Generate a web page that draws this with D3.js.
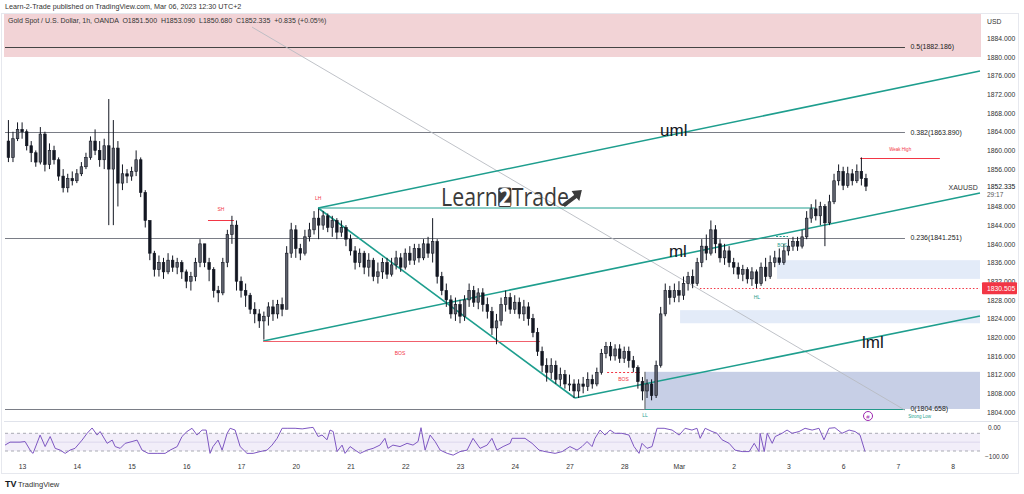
<!DOCTYPE html>
<html><head><meta charset="utf-8">
<script src="https://cdn.jsdelivr.net/npm/d3@7"></script>
<style>
body{margin:0;background:#fff;overflow:hidden}
svg{display:block;font-family:"Liberation Sans",Arial,sans-serif}
</style></head>
<body><svg id="c" width="1024" height="494"></svg>
<script>
// ---------- DATA (2-hour bars, hours in trading time from Feb 13 00:00) ----------
const firstOpen = 1862;
const closes = [1858.5,1862.5,1864.5,
1864,1861,1859.5,1857.5,1863.5,1857,1860,1858,1854.5,1852,1854,1853.5,
1855,1856.5,1858.5,1862,1860,1858,1861,1856,1860.5,1853,1855,1854.5,
1855.5,1858,1851,1845,1838,1834.5,1836,1834,1836.5,1835,1836,1834,
1832,1833,1836,1840,1836,1834.5,1830,1829.5,1836,1842,1844,1832,
1830,1829,1826,1825,1823.5,1824.5,1826.5,1825,1827,1826,1838,1843,
1839,1838,1841.5,1843,1845.5,1844,1846,1843.5,1845,1842.5,1843.5,1841,
1838.5,1836,1838,1835,1836.5,1833,1834,1836,1833.5,1835.5,1837,1835,
1838,1836.5,1839,1837,1840,1838,1840.5,1833,1830,1828,1825,1827,
1824.5,1828,1830,1827.5,1829.5,1827,1825.5,1822,1823.5,1827,1828.5,1826,
1827.5,1825,1826.5,1824,1821,1817,1814,1812.5,1814,1811,1812,1810,
1810,1808.5,1810,1809.5,1811,1810,1812.5,1816.5,1818,1816,1817.5,1815.5,
1817,1815,1813.5,1810.5,1808.5,1810,1807.5,1814,1825,1830,1828.5,1830,
1829,1831.5,1833,1831.5,1836,1839.5,1838,1843,1840,1837,1838.5,1836,
1835,1833.5,1834.5,1832.5,1834,1831.5,1835,1833,1836,1837,1836,1838.5,
1839.5,1840.5,1839.5,1841.5,1845.5,1847.5,1846,1848,1844.5,1849,1853.5,1855.5,
1852.5,1855,1853.5,1855.5,1854,1852.335];
const highs = [1866.5,1864,1866,
1866,1864.5,1862,1860,1865,1864,1861.5,1861,1858.5,1856,1855,1855.5,
1856,1857.5,1859.5,1863,1864.5,1862,1862.5,1871,1866.5,1862,1857,1856,
1856.5,1860,1858.5,1851.5,1845,1838.5,1837.5,1837,1838,1837.5,1837,1836.5,
1834.5,1834,1837,1841,1840,1837,1835,1831,1837,1843,1846,1845,
1833,1831.5,1829.5,1827.5,1826,1825.5,1827.5,1828,1828,1828.5,1839.5,1844.5,
1844,1840,1843,1844.5,1847,1847.5,1847,1846.5,1846,1845.5,1845,1844,
1842,1839.5,1839,1838.5,1838,1837,1836,1837,1837,1837,1838.5,1838,
1839,1839.5,1840,1840,1841,1841.5,1845.5,1841,1834,1831.5,1829,1828.5,
1828,1829,1831.5,1831,1830.5,1830.5,1828.5,1826.5,1825,1828.5,1830,1829.5,
1829,1828.5,1828,1827.5,1825,1822,1818,1815.5,1815.5,1815,1813.5,1813,
1812,1811,1811,1811.5,1812.5,1812,1813.5,1817.5,1819,1819,1818.5,1818.5,
1818,1818,1816,1814,1811.5,1811,1811,1815,1826.5,1831.5,1831,1831.5,
1832,1833,1834,1834.5,1837,1841,1842,1845,1844,1841,1840,1839.5,
1837,1836,1835.5,1835,1835,1834.5,1836,1837,1837.5,1838.5,1839,1840,
1841,1841.5,1841.5,1843,1847,1848.5,1849.5,1849,1848.5,1850.5,1855,1857,
1856.5,1856.5,1856,1857,1858.5,1855];
const lows = [1857.5,1857.5,1862,
1862.5,1860,1857.5,1856.5,1857,1855.5,1856,1857,1853.5,1851,1851,1852.5,
1853,1854.5,1856,1858,1859,1856.5,1856,1844,1844,1848,1851.5,1853,
1853.5,1854.5,1850,1843.5,1836.5,1833,1833,1832.5,1833.5,1834,1833.5,1832.5,
1830.5,1830,1832,1835,1835,1832,1828.5,1827.5,1829,1835,1840,1830,
1828.5,1826.5,1825,1823,1822,1819.5,1822.5,1823.5,1824,1824.5,1826,1837,
1837,1836.5,1837.5,1840.5,1842,1841,1843,1842.5,1841.5,1841,1841.5,1839.5,
1837.5,1834.5,1835,1833.5,1833,1832,1831.5,1832.5,1832.5,1833,1834.5,1834,
1834.5,1835.5,1835.5,1836,1836.5,1837,1836,1831.5,1829,1826.5,1824,1823.5,
1823,1823.5,1826.5,1826.5,1826,1825.5,1824,1820.5,1818.5,1822.5,1825.5,1825,
1825,1824,1823.5,1822.5,1820,1816,1812.5,1810.5,1811,1810,1809.5,1809,
1808.5,1807,1807,1808,1808.5,1809,1809.5,1812,1815.5,1815,1815,1814.5,
1814.5,1813.5,1812.5,1809,1806.5,1807,1806.5,1807,1813.5,1824.5,1827,1827.5,
1827.5,1828,1830,1830.5,1831,1835,1836.5,1837.5,1838,1836,1835.5,1835,
1833.5,1832.5,1832,1831.5,1831,1830.5,1831,1832,1832.5,1835,1835.5,1835.5,
1837.5,1838.5,1838.5,1839,1841,1844.5,1845,1844,1839.5,1844,1848.5,1852.5,
1851.5,1852,1852.5,1853,1852.5,1851.3];

// Williams %R panel: [hour, value]
const wrPoints = [[-7.5,-60],[-5.3,-50],[-0.9,-50],[1.3,-48],[3.9,-82],[4.8,-88],[7.9,-26],[10.1,-65],[12.3,-31],[14.5,-71],[16.7,-77],[18.9,-88],[21,-77],[23.2,-71],[26.3,-43],[28.5,-20],[30.7,-2],[32.9,-26],[34.2,-14],[37.3,-54],[39.5,-43],[40.8,-65],[43,-71],[45.2,-54],[48.2,-48],[50.4,-43],[52.6,-77],[55.3,-88],[59.2,-88],[62.7,-88],[64.9,-77],[68,-65],[70.1,-31],[72.3,-14],[74.5,-3],[76.7,-26],[78.9,-9],[80.7,-9],[82.4,-88],[83.7,-65],[85.9,-43],[87.7,-77],[89.9,-20],[91.2,-3],[93.4,-9],[95.6,-65],[98.6,-88],[101.3,-88],[104.3,-82],[107.4,-77],[109.6,-60],[111.8,-37],[114,-3],[116.2,-3],[119.7,-3],[122.8,-5],[126.3,-1],[127.6,0],[129.8,-31],[131.5,-26],[133.7,-42],[135,-9],[136.4,-14],[138.1,-82],[140.3,-60],[141.6,-88],[143.8,-65],[146,-77],[148.2,-88],[151.2,-77],[153.9,-71],[156.9,-60],[159.1,-37],[160.4,-71],[162.6,-60],[165.7,-65],[168.8,-54],[171.4,-60],[173.6,-48],[174.9,-1],[176.7,-77],[178.9,-26],[181.1,-48],[183.3,-77],[186.4,-88],[189,-94],[192,-82],[195.1,-77],[197.7,-37],[200.8,-71],[203.9,-60],[206,-37],[208.2,-77],[210.9,-65],[214,-54],[214.8,-37],[220.5,-37],[223.6,-54],[226.7,-77],[229.3,-82],[233.7,-88],[236.8,-82],[240.2,-65],[243.3,-77],[245.5,-65],[247.7,-48],[249.9,-65],[251.2,-37],[253.4,-9],[255.6,-26],[257.8,-9],[259.9,-20],[263,-20],[266.1,-26],[268.3,-65],[270.5,-88],[271.8,-54],[274,-71],[276.2,-65],[278.4,-3],[281.5,-3],[285,-9],[288.1,-26],[290.7,-3],[293.7,-9],[295.9,-3],[297.3,-37],[299.5,-3],[302.5,-14],[304.7,-20],[306.9,-42],[310,-54],[312.6,-77],[315.7,-82],[318.8,-82],[321,-54],[323.1,-82],[323.6,-20],[325.4,-82],[326.7,-20],[328.9,-54],[330.2,-31],[333.2,-20],[335.4,-9],[337.6,-20],[340.7,-14],[343.3,-3],[346.4,-9],[349.4,-3],[351.6,-42],[353.8,-3],[356.4,-1],[359.5,-20],[362.6,-9],[365.2,-14],[367.4,-26],[369.6,-82]];

const dayLabels = ["13","14","15","16","17","20","21","22","23","24","27","28","Mar","2","3","6","7","8"];
const priceTicks = [1804,1808,1812,1816,1820,1824,1828,1832,1836,1840,1844,1848,1856,1860,1864,1868,1872,1876,1880,1884];
const fibLevels = [["0.5",1882.186],["0.382",1863.890],["0.236",1841.251],["0",1804.658]];
const lhPoint = [129.8,1847.67];
const mlStart = [105.7,1819.2];
const lmlStart = [242.4,1807.0];
const umlEnd = [420,1877.0], mlEnd = [420,1850.9], lmlEnd = [420,1824.55];
const greyDiag = [[100.8,1886.4],[387.1,1804.4]];
const lastPrice = 1852.335, markPrice = 1830.505;

// ---------- SCALES ----------
const X = d3.scaleLinear().domain([-7.5,420]).range([5,980]);
const Y = d3.scaleLinear().domain([1804,1884]).range([412,38.3]);
const W = d3.scaleLinear().domain([0,-100]).range([427.4,456.9]);
const Yc = v => Math.round(Y(v))+0.5;
const paneL=4, paneR=981, paneT=14, paneB=421;

const svg = d3.select("#c");
svg.append("defs").append("clipPath").attr("id","cp").append("rect")
  .attr("x",paneL).attr("y",paneT).attr("width",paneR-paneL).attr("height",paneB-paneT);
svg.select("defs").append("clipPath").attr("id","cp2").append("rect")
  .attr("x",paneL).attr("y",paneB).attr("width",paneR-paneL).attr("height",38);

// header
svg.append("text").attr("x",5).attr("y",9).attr("font-size",7.2).attr("fill","#333")
  .text("Learn-2-Trade published on TradingView.com, Mar 06, 2023 12:30 UTC+2");
// frame
svg.append("rect").attr("x",1.5).attr("y",13.5).attr("width",1017).attr("height",460)
  .attr("fill","none").attr("stroke","#e6e8ee");

const g = svg.append("g").attr("clip-path","url(#cp)");

// zones
g.append("rect").attr("x",X(-7.5)-2).attr("width",X(420)-X(-7.5)+4)
  .attr("y",paneT).attr("height",Y(1880)-paneT).attr("fill","#f2d3d6");
g.append("rect").attr("x",X(273.1)).attr("width",X(420)-X(273.1))
  .attr("y",Y(1812.6)).attr("height",Y(1804.65)-Y(1812.6)).attr("fill","#c7cfe6");
g.append("line").attr("x1",X(273.1)).attr("x2",X(273.1)).attr("y1",Y(1812.6)).attr("y2",Y(1804.65))
  .attr("stroke","#555").attr("stroke-width",1);
g.append("rect").attr("x",X(288.5)).attr("width",X(420)-X(288.5))
  .attr("y",Y(1825.8)).attr("height",Y(1823.0)-Y(1825.8)).attr("fill","#e3ebf8");
g.append("rect").attr("x",X(331)).attr("width",X(420)-X(331))
  .attr("y",Y(1836.5)).attr("height",Y(1832.5)-Y(1836.5)).attr("fill","#e3ebf8");

// fib lines
fibLevels.forEach(([k,v])=>{
  g.append("line").attr("x1",X(-7.5)).attr("x2",X(387.1)).attr("y1",Yc(v)).attr("y2",Yc(v))
    .attr("stroke", k==="0.5"?"#444":"#7a7d86").attr("stroke-width",1);
  g.append("text").attr("x",X(389.5)).attr("y",Y(v)+2.5).attr("font-size",7).attr("fill","#222")
    .text(`${k}(${v.toFixed(3)})`);
});
// strong low teal
g.append("line").attr("x1",X(273.1)).attr("x2",X(387.1)).attr("y1",Yc(1804.658)).attr("y2",Yc(1804.658))
  .attr("stroke","#22998a").attr("stroke-width",1.2);

// grey diagonal
g.append("line").attr("x1",X(greyDiag[0][0])).attr("y1",Y(greyDiag[0][1]))
  .attr("x2",X(greyDiag[1][0])).attr("y2",Y(greyDiag[1][1])).attr("stroke","#b8bbc2").attr("stroke-width",0.9);

// red dotted mark line
g.append("line").attr("x1",X(297.2)).attr("x2",X(420)).attr("y1",Yc(markPrice)).attr("y2",Yc(markPrice))
  .attr("stroke","#f23645").attr("stroke-width",1).attr("stroke-dasharray","1.5,2");

// channel lines
const teal="#1e9e8e";
const seg=(a,b,w)=>g.append("line").attr("x1",X(a[0])).attr("y1",Y(a[1])).attr("x2",X(b[0])).attr("y2",Y(b[1]))
  .attr("stroke",teal).attr("stroke-width",w);
seg(lhPoint,umlEnd,1.6);
seg(mlStart,mlEnd,1.6);
seg(lmlStart,lmlEnd,1.6);
seg(lhPoint,lmlStart,1.6);
seg(lhPoint,[347.6,lhPoint[1]],1);

// BOS red line & SH line
const red="#f23645";
const hl=(h1,h2,p,col,dash)=>{const l=g.append("line").attr("x1",X(h1)).attr("x2",X(h2)).attr("y1",Yc(p)).attr("y2",Yc(p)).attr("stroke",col).attr("stroke-width",1); if(dash) l.attr("stroke-dasharray",dash);};
hl(105.7,227.1,1819.1,"#f0606c");
hl(81.5,92.9,1845.1,red);
hl(367.4,402.4,1858.4,red);
hl(256.5,270.9,1812.56,red,"2,2");
hl(330.6,335.8,1841.7,teal,"2,1.5");

// watermark Learn2Trade
const wm = g.append("g");
const fs=25;
const t1 = wm.append("text").attr("font-size",fs).attr("fill","#3b3b3b").attr("font-family","'Open Sans',Arial,sans-serif").text("Learn");
const w1 = t1.node().getComputedTextLength();
const t2w = fs*0.62;
wm.append("rect").attr("x",w1+0.5).attr("y",-fs*0.74).attr("width",t2w).attr("height",fs*0.78).attr("rx",2).attr("fill","#3b3b3b");
wm.append("text").attr("x",w1+0.5+t2w/2).attr("text-anchor","middle").attr("font-size",fs).attr("font-weight","bold").attr("fill","#fff").attr("font-family","'Open Sans',Arial,sans-serif").text("2");
const t3 = wm.append("text").attr("x",w1+t2w+1).attr("font-size",fs).attr("fill","#3b3b3b").attr("font-family","'Open Sans',Arial,sans-serif").text("Trade");
const wTot = w1+t2w+1+t3.node().getComputedTextLength();
wm.append("path").attr("d",`M${wTot-8},${-2} L${wTot+6},${-11} L${wTot+3},${-15} L${wTot+15},${-16} L${wTot+12},${-5} L${wTot+9},${-8} L${wTot-5},${1} Z`).attr("fill","#3b3b3b");
const sx = 128/wTot;
wm.attr("transform",`translate(${X(183.7)},${Y(1848.1)}) scale(${sx},1)`);

// candles
const bars = closes.map((c,i)=>{const o=i?closes[i-1]:firstOpen;
  return {t:-6+2*i,o,c,h:Math.max(highs[i],o,c),l:Math.min(lows[i],o,c)};});
const cg = g.append("g");
cg.selectAll("line.w").data(bars).join("line").attr("class","w")
  .attr("x1",d=>X(d.t)).attr("x2",d=>X(d.t)).attr("y1",d=>Y(d.h)).attr("y2",d=>Y(d.l))
  .attr("stroke","#131722").attr("stroke-width",1);
cg.selectAll("rect.b").data(bars).join("rect").attr("class","b")
  .attr("x",d=>X(d.t)-1.3).attr("width",2.6)
  .attr("y",d=>Y(Math.max(d.o,d.c))).attr("height",d=>Math.max(1,Math.abs(Y(d.o)-Y(d.c))))
  .attr("fill",d=>d.c>=d.o?"#5d606b":"#131722").attr("stroke","#131722").attr("stroke-width",0.6);

// small labels
const lab=(txt,h,p,col,fsz,anchor="middle")=>g.append("text").attr("x",X(h)).attr("y",Y(p)).attr("font-size",fsz)
  .attr("fill",col).attr("text-anchor",anchor).text(txt);
lab("SH",87.2,1847.0,red,5);
lab("LH",129.8,1849.4,red,5);
lab("BOS",165.7,1816.3,red,5);
lab("BOS",263.7,1810.6,red,5);
lab("Weak High",385,1859.8,red,4.5);
lab("BOS",333.2,1839.4,teal,4.5);
lab("HL",322.2,1828.2,teal,5);
lab("LL",273.1,1803.0,teal,5);
lab("Strong Low",393.5,1802.8,teal,4.5);
// channel names
lab("uml",279.7,1863.1,"#131722",17,"start");
lab("ml",283.6,1837.2,"#131722",17,"start");
lab("lml",368.3,1817.7,"#131722",17,"start");
// XAUUSD
lab("XAUUSD",419,1851.6,"#333",7,"end");
// purple icon
g.append("circle").attr("cx",X(370.9)).attr("cy",416).attr("r",4.5).attr("fill","#fff").attr("stroke","#9c27b0").attr("stroke-width",1);
g.append("text").attr("x",X(370.9)).attr("y",418.5).attr("text-anchor","middle").attr("font-size",6).attr("fill","#9c27b0").text("#");

// symbol header on top of pane
svg.append("text").attr("x",8).attr("y",23).attr("font-size",7).attr("fill","#333")
  .attr("xml:space","preserve")
  .text("Gold Spot / U.S. Dollar, 1h, OANDA  O1851.500  H1853.090  L1850.680  C1852.335  +0.835 (+0.05%)");

// pane separator
svg.append("line").attr("x1",paneL).attr("x2",1018).attr("y1",paneB+0.5).attr("y2",paneB+0.5).attr("stroke","#e0e3eb");

// ---------- %R panel ----------
const rg = svg.append("g").attr("clip-path","url(#cp2)");
rg.append("rect").attr("x",X(-7.5)).attr("width",X(420)-X(-7.5)).attr("y",W(-20)).attr("height",W(-80)-W(-20)).attr("fill","#7e57c2").attr("fill-opacity",0.1);
[-20,-80].forEach(v=>rg.append("line").attr("x1",X(-7.5)).attr("x2",X(420)).attr("y1",W(v)).attr("y2",W(v))
  .attr("stroke","#9598a1").attr("stroke-dasharray","3,3").attr("stroke-width",0.8));
rg.append("line").attr("x1",X(-7.5)).attr("x2",X(420)).attr("y1",W(-50)).attr("y2",W(-50)).attr("stroke","#d6d0e8").attr("stroke-width",0.8);
rg.append("path").datum(wrPoints).attr("fill","none").attr("stroke","#7e57c2").attr("stroke-width",1)
  .attr("d",d3.line().x(d=>X(d[0])).y(d=>W(d[1])));
svg.append("text").attr("x",988).attr("y",W(0)+2.5).attr("font-size",6.5).attr("fill","#333").text("0.00");
svg.append("text").attr("x",985).attr("y",W(-100)+2.5).attr("font-size",6.5).attr("fill","#333").text("−100.00");

// ---------- axes ----------
const ya = svg.append("g").attr("transform",`translate(983,0)`)
  .call(d3.axisRight(Y).tickValues(priceTicks).tickFormat(d3.format(".3f")).tickSize(0).tickPadding(4));
ya.select(".domain").remove();
ya.selectAll("text").attr("font-size",6.8).attr("fill","#333").attr("font-family","'Liberation Sans',Arial,sans-serif");
svg.append("text").attr("x",987).attr("y",24).attr("font-size",6.8).attr("fill","#333").text("USD");

// last price label
svg.append("text").attr("x",987).attr("y",Y(lastPrice)+2.5).attr("font-size",6.8).attr("fill","#131722").text(lastPrice.toFixed(3));
svg.append("text").attr("x",987).attr("y",Y(lastPrice)+10.5).attr("font-size",6.5).attr("fill","#555").text("29:17");
// mark price red box
svg.append("rect").attr("x",982).attr("y",Y(markPrice)-6).attr("width",35).attr("height",12).attr("rx",1).attr("fill","#f23645");
svg.append("text").attr("x",987).attr("y",Y(markPrice)+2.5).attr("font-size",6.8).attr("fill","#fff").text(markPrice.toFixed(3));

const xa = svg.append("g").attr("transform",`translate(0,459)`)
  .call(d3.axisBottom(X).tickValues(dayLabels.map((d,i)=>i*24)).tickFormat((d,i)=>dayLabels[i]).tickSize(0).tickPadding(5));
xa.select(".domain").remove();
xa.selectAll("text").attr("font-size",6.8).attr("fill","#333").attr("font-family","'Liberation Sans',Arial,sans-serif");

// TradingView footer
const tv = svg.append("g").attr("transform","translate(5,481)");
tv.append("text").attr("x",0).attr("y",6).attr("font-size",9).attr("font-weight","bold").attr("fill","#131722").text("TV");
tv.append("text").attr("x",13).attr("y",6).attr("font-size",7.5).attr("fill","#333").text("TradingView");
</script></body></html>
